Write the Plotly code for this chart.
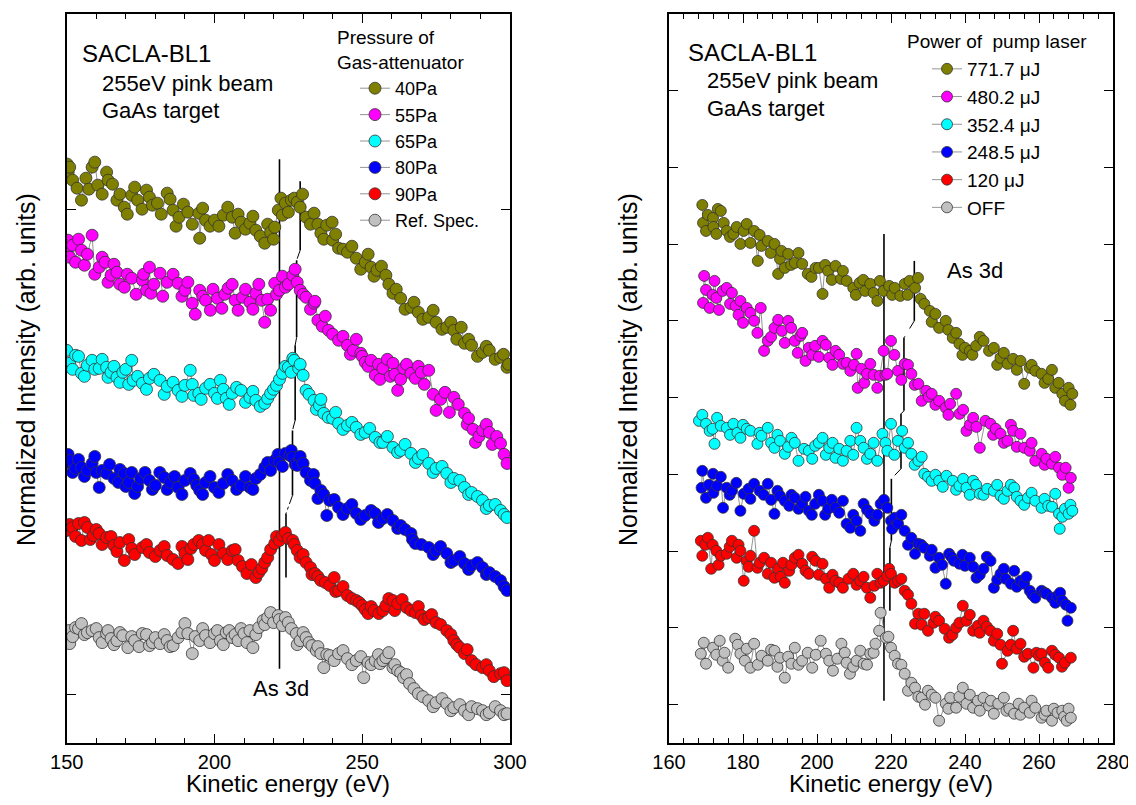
import plotly.graph_objects as go

# ---------------- Left panel data (Kinetic energy eV, intensity arb. units) ----------------
# first reading of each spectrum
L_40_x = [150.5,151,152,155,156.5,158.6,160.5,163.5,164,167,169.5,172,174,177,179,180.7,184,186,188,191,194.7,195,197,200,203,206,207,209,212,214,217,219,220.4,221.6,223,224,226,227,228,229,231,233.7,236,238,239.8,240,242,245,248,251,253,255,258,260.4,263,266.5,269,272.5,275,278.6,281,283.5,284.6,287,290.7,293,296.8,299]
L_40_y = [522,527,514,494,516,527,509,522,514,494,487,499,494,504,489,491,501,484,477,482,481,456,474,474,479,477,461,472,471,464,451,462,467,484,479,491,494,496,492,487,477,481,461,469,472,454,446,442,436,432,427,424,419,401,396,387,382,377,372,367,364,367,351,349,342,344,337,327]
# second reading (points spread across the width of the band)
L_40_x2 = [150.2,153.5,157.5,159.5,162,165.5,168,170.5,173,175.5,178,182,185,187,189.5,192.5,196,198.5,201.5,204.5,208,210.5,213,215.5,218,220,222.5,225,229.8,232.5,235,237,241,243.5,246.5,249.5,252,254,256.5,259,261.5,264.5,267.5,270.5,274,277,280,282,286,289,292,295,297.8,299.5]
L_40_y2 = [530,506,505,532,500,510,500,480,507,485,497,480,495,468,490,470,486,468,468,487,480,465,478,458,470,455,496,482,500,470,470,455,460,445,448,425,440,418,428,410,405,385,392,375,384,365,372,355,355,338,348,335,340,330]

L_55_x = [150.5,151,152,153,155,156,158.6,161,163,165,167,169.5,172,175.6,177,178,178.5,181.6,184,187.7,190,192.5,195,197,198.6,201,204.6,207,209.5,212,214,216,217,219,220.4,222,224,226.5,228,229,231,233.7,235,238.6,242,245,247,249.5,251,253,254.4,257,260.4,262,264,266.5,270,272.5,275,278,281,284.6,286,288.3,290.7,293,296.8,299]
L_55_y = [454,437,449,432,444,429,459,427,432,419,422,407,416,414,404,427,401,421,412,411,404,391,404,394,384,396,406,394,397,392,401,394,372,384,411,404,407,419,412,404,397,391,374,364,354,349,344,341,332,334,319,326,331,304,326,321,322,324,284,302,297,281,276,252,264,262,251,231]
L_55_x2 = [150.2,154,157,159.5,162,164,166,168,170.5,173.5,176,179.5,182.5,186,189,191,193.5,196,199.5,202.5,203.5,206,208,210.5,213,215,218,221,223,225,227.3,230,232.5,234,236.5,237.5,240,243.5,246,248,250,252,255.5,256,258.5,259.5,261,263,265,268,269,271,274,276.5,279.5,282.5,285.5,287.5,289.5,292,294,295.5,298]
L_55_y2 = [445,455,440,420,437,412,430,410,420,400,420,410,398,420,398,412,380,398,405,386,400,410,384,405,385,410,395,400,418,410,425,400,385,393,368,378,360,358,340,355,338,328,330,315,335,318,320,315,330,316,328,310,300,295,282,290,270,265,258,270,250,258,240]

L_65_x = [150,151,153,155,157,158.6,161,163.5,165,167,169,172,172.5,175.6,178,181.6,184,187.7,190,191.8,193,194.7,197,200,202,204,206,209,212,214,217,219,221,223,225,227,228.5,230,231,233.7,235.5,237,240,242,245,248,251,254.4,257,260.4,263,266.5,269,272.5,275,278.6,281,284.6,287,290.7,293,296.8,299]
L_65_y = [344,331,339,321,329,334,326,327,322,317,322,334,314,311,316,314,308,304,309,324,299,301,306,301,314,296,301,304,297,294,291,301,309,321,327,334,326,319,304,294,289,281,276,271,269,267,262,257,252,247,244,241,236,231,226,221,216,207,202,194,189,184,177]
L_65_x2 = [152,154,156,159.5,162,164,166,168,170,171,174,177,179.5,183,186,189,192.5,195.5,198.5,201,203,205,207.5,210.5,213,215.5,218,220,222,224,226,226.5,229,232,234.5,236,238.5,241,243.5,246.5,249.5,252.5,256,258.5,262,264.5,268,270.5,274,277,280,283,286,289,292,295,298]
L_65_y2 = [325,338,318,325,335,317,328,312,325,310,318,305,320,300,312,298,310,295,310,296,305,290,307,292,303,288,296,305,315,328,322,336,330,300,285,295,277,282,265,272,260,266,252,258,242,250,232,240,222,228,212,214,200,198,186,190,180]

L_80_x = [150,151,153,155,157,158.6,161,162,163.5,166,169.5,171,173,175,178,180,183,185,187.7,190,191.8,194,195,197,200,203,206,209,212,214,217,219,220.4,222,224,225.5,226.5,228,230,232.5,234,236,238,239,242,245,248,251,254.4,257,260.4,263,266.5,268,272.5,275,278.6,281,284.6,287,290.7,293,296.8,299]
L_80_y = [232,234,226,227,224,231,207,224,221,216,221,212,201,216,214,209,217,212,207,214,221,209,204,212,207,211,214,209,207,216,227,224,234,232,241,239,237,229,231,214,211,204,179,194,187,186,181,179,181,176,174,169,161,151,147,144,141,134,131,129,127,122,114,104]
L_80_x2 = [150.5,152,154,156,159.5,160,164.5,167.5,168,170,172,174,176.5,179,181.5,184,186.5,189,193,196,198.5,201.5,204.5,207.5,210.5,213,215.5,218,221.5,223,226,227.3,229,231,233.5,235,237,240.5,243.5,246.5,249.5,253,255.5,258.5,262,264.5,267,270,274,276.5,280,283,286,289,292,295,298]
L_80_y2 = [240,222,235,218,238,222,230,212,225,208,222,208,222,205,222,205,218,200,215,200,218,202,220,205,218,205,220,232,240,228,244,230,238,222,220,196,200,195,180,190,175,184,172,180,166,165,155,150,140,148,132,138,125,132,120,118,108]

L_90_x = [150,152,154,155,157,159,161,163.5,166,168,169.5,172,175.6,178,181.6,184,187.7,190,192,194.7,197,198,200,203,206,208,211,214,216,218,220.4,222,223,225,226.5,228,229,231,232.5,234,236,239,240.5,242,245,248,250,252,254,255.6,258,260.4,262,265,268,270,272.5,275,278.6,281,283,284.6,287,290.7,293,296.8,299]
L_90_y = [164,167,171,154,167,159,161,157,149,152,134,146,147,142,144,139,131,141,146,154,144,154,134,141,144,134,121,117,126,137,151,154,159,156,154,144,137,132,127,121,114,109,117,104,99,94,89,81,84,81,89,94,91,87,82,79,77,72,64,54,47,41,34,27,24,21,14]
L_90_x2 = [151,153,156,158,160,162,165,167,171,173,177,180,183,186,189,191,193,196,199,201.5,204.5,207,209.5,212.5,215,217,219,221,224,227,230,233,235,237.5,241,243.5,246.5,249,251,253,257,259,261,263.5,266.5,269,271,273.5,276.5,280,282,285.5,288.5,292,294.5,298]
L_90_y2 = [170,158,172,155,165,150,158,143,155,140,150,138,148,135,148,135,150,150,140,150,135,145,128,130,122,132,145,158,162,150,140,120,118,112,103,108,96,92,85,88,84,96,84,95,84,88,75,80,70,60,50,45,30,30,18,22]

L_ref_x = [150.7,151,153,155,157,158.6,161,163.5,165,167,169,170.7,173,175.6,178,180,181.6,184,186,187.7,190,191,192.5,195,197,200,202,204,206,208,210,212,213,215,216.5,218,220,221.6,223,224,226,227.7,229,231,233,234.5,236,237,239,242,245,248,250.5,252,254.4,256,258,260.4,262,264,266,269,272.5,275,278.6,281,284.6,287,290.7,293,296.8,299]
L_ref_y = [64,51,67,71,62,64,57,61,56,54,59,47,54,61,49,57,51,54,49,57,71,61,41,54,59,61,54,62,57,54,61,64,47,67,74,77,72,79,69,77,66,61,54,57,49,44,41,27,39,41,36,34,17,32,34,31,37,27,24,17,11,1,-6,-8,-9,-13,-16,-12,-16,-18,-16,-19]
L_ref_x2 = [152,154,156,160,162,164,166,168,172,174.5,177,179,183,185,189,193.5,196,198.5,201,203,205,207,209,211,214,217,219,222,225,228,230,232,235,238,240.5,243.5,246.5,249.5,253,255.5,257,259,261,263,265,267.5,270.5,274,277,280,283,286,289,292,295,298]
L_ref_y2 = [58,66,60,66,52,64,50,62,58,48,60,52,60,48,62,58,66,52,64,50,64,60,66,52,60,70,82,75,72,50,62,52,48,40,34,44,30,38,30,40,34,42,30,22,20,6,-2,-12,-4,-16,-10,-20,-14,-20,-12,-20]

left_names = ["40Pa", "55Pa", "65Pa", "80Pa", "90Pa", "Ref. Spec."]

# peak markers (left): long line at As 3d of reference, short segments at each spectrum's peak
L_ref_peak_x = [222.0, 222.0]
L_ref_peak_y = [535, 26]
L_seg_x = [229.0, 227.8, 227.3, 226.4, 224.2]
L_seg_top = [513, 434, 349, 264, 181]
L_seg_bot = [444, 357, 274, 199, 117]

# ---------------- Right panel data ----------------
R_771_x = [169,169.2,170,171.9,172.8,173.2,174,175.6,177.4,179.3,180.2,181,183,184,185,186.7,188.5,189.5,190.4,191.3,192.2,194,196,197.5,199.6,200.5,201.5,203,205,206.5,208,209.8,211.5,213,214.4,216.3,218,219.5,221,222.5,223.7,225,226.5,228,229,230.5,232,233,234.8,236.7,238.5,240,241.3,243,245,246.5,247.8,249.6,251.5,253,255,256,257.5,259,260.7,262.5,264.4,266.3,267,268,269]
R_771_y = [500,482,474,487,471,496,494,474,471,461,474,481,474,444,459,464,461,431,454,437,451,442,441,431,437,437,411,434,439,426,424,417,422,414,421,404,414,419,417,409,421,424,417,406,401,394,391,377,384,367,361,357,354,359,364,354,357,347,341,346,344,321,337,334,331,326,317,311,304,317,311]
R_771_x2 = [170.5,172,174.8,176.5,178.3,182,184.5,187.5,190,193,195,198.5,202.2,204,207,210.5,212.5,215.3,217,220.3,224.5,227.3,231,235.5,237.6,239.3,242,244,248.7,250.5,254,258,261.5,263.5,265.3,268.5]
R_771_y2 = [490,478,482,468,478,462,470,452,446,440,452,428,440,425,434,410,425,412,424,410,410,427,383,375,372,350,350,368,340,352,335,340,322,335,322,300]

R_480_x = [169.2,169.5,171,172.3,172.8,174.5,175.6,176.5,178,179.3,180,181,183,184.8,185.7,186.7,188.5,190.5,192.2,193,194,195.5,196.9,197.8,199.5,201.5,203.3,205,207,209,210.7,211,212,213.5,214.4,216.3,217,218,219,220,221.9,223.7,225.5,227.4,228.3,229.5,231,233,234.8,236,237.6,238.5,240.4,242.2,244,245.5,246.9,248.3,249.6,251.5,253,255,256,257.5,259,260.7,262,263.5,265.4,267.2,268,268.6]
R_480_y = [402,429,397,424,407,414,417,401,399,404,382,397,384,397,354,364,377,374,384,377,364,369,344,357,359,364,347,354,341,334,351,317,336,331,341,317,329,354,331,364,334,341,331,321,304,314,311,304,297,301,311,291,274,287,257,284,281,276,271,264,274,271,257,254,244,251,246,241,237,237,217,227]
R_480_x2 = [170,171.8,173.5,177,178.8,182,183.9,187.6,189.5,191.3,194.8,196,198.7,200.5,202.4,204.2,206,208,210,212.8,215.3,218.5,220.9,222.8,224.6,226.4,230.2,232,235.5,239.5,241.3,243.1,247.6,250.5,252.4,254,258,261.5,264.4,266.3]
R_480_y2 = [415,410,395,412,390,392,372,368,385,362,352,372,350,348,360,340,350,342,340,322,330,330,350,325,340,320,308,300,290,295,280,278,270,262,280,258,262,240,248,230]

R_352_x = [168.1,170,171,172.3,173,174,175.6,177.4,178.5,179.3,181,182,183.9,185,186.7,188.5,190,191.3,193.1,195,196.5,197.8,199.5,201.5,203.3,205,207,208,209,210.7,212.6,214.4,216.3,217.7,219,220,221.9,223,223.7,225.5,227.4,229,231,233,235,236.7,238.5,240.4,242.2,244,246,247.8,249.6,251.5,253.3,255,257,259,260.7,262.5,264.4,265.4,265.6,267,268,269]
R_352_y = [284,281,274,261,287,279,277,281,272,267,276,274,261,269,277,257,264,251,267,244,256,254,259,267,257,247,244,254,264,277,257,251,244,271,254,281,264,274,257,251,244,231,224,224,229,224,219,217,224,211,216,214,209,214,217,204,207,204,197,199,211,191,176,196,191,194]
R_352_x2 = [169,171.8,176.5,180,184.5,187.6,189.3,192.2,194,198.7,200.5,202.4,204.2,206,209.8,211.7,213.5,215.3,218.5,220.9,224.6,226.4,228.3,230,232,234,237.6,239.5,241.3,243,245,248.7,250.5,252.4,254,256,258,261.5,263.5,266.3,268.5]
R_352_y2 = [290,276,270,280,272,262,270,258,262,246,262,250,262,256,250,264,246,262,262,250,262,240,248,228,230,218,215,226,210,220,210,220,206,220,208,200,212,206,198,188,200]

R_248_x = [168.8,169,170,171.9,173,174.6,175.6,177,179.3,180.2,181.5,183,184.5,186.7,188.5,190,191.3,192.5,194,196,197.8,199.5,201.5,203,205,207,208,209,210.7,211.7,212.6,214.4,215.5,217.2,219,220,221,221.9,223.7,225.5,226.5,227.4,229,230.5,232,233,234.8,235.7,237,238.5,240,241.3,243.1,245,246.9,247.8,249.6,251,252.4,253.3,255,256,257.5,259,260.7,262,263.5,265,266.3,267.7,268.6]
R_248_y = [217,234,207,231,219,197,217,214,194,211,216,221,214,221,191,209,204,199,207,201,194,201,204,196,197,204,181,177,184,174,201,191,184,201,197,184,187,181,174,167,151,161,157,149,137,147,121,151,144,141,139,147,127,136,144,117,131,126,121,134,124,121,114,107,114,111,107,109,104,84,97]
R_248_x2 = [170.8,172,174,176.4,178.2,182,185.6,187.6,189.3,193.1,195,196.9,198.6,200.5,202.2,204,206,209.8,213.5,216.3,218.1,220.3,222.8,224.6,228.2,231,233.8,236.3,239.3,242.2,244,245.9,248.7,250.5,254,256.6,258.2,261.5,264.4,265.7,267.3]
R_248_y2 = [220,212,228,210,222,206,210,205,214,210,196,208,190,210,190,205,192,190,195,190,205,176,190,160,160,155,140,148,150,138,130,148,125,136,118,128,110,112,102,112,100]

R_120_x = [168.6,169,170.5,171.4,172.8,174,175.6,177,178.3,179.3,180.2,181,182,183,183.9,185.7,186.7,188.5,189.5,190.8,191.3,192.5,194,196,197.8,199.6,201.5,203.3,205,207,208.5,209.8,211.7,213.5,214.4,215.5,216.3,218,219,220,221.9,223.7,225.5,226.5,227.4,229,230,231.5,233,234.5,235.7,237.6,239.4,240.4,242.2,243.5,245,246.9,248.7,250,251.5,253,254,255,257,258.5,260,260.7,262.5,263.5,265.4,267,268.6]
R_120_y = [164,149,167,136,154,149,151,164,147,154,124,144,149,174,137,147,131,127,136,142,122,134,147,141,131,144,141,117,124,117,126,131,124,117,107,119,131,124,129,131,124,114,101,81,91,91,74,82,84,76,67,77,99,84,74,79,84,74,71,41,54,74,56,61,51,37,49,51,37,54,47,42,47]
R_120_x2 = [169.8,171.8,173.4,176.4,178.8,181.5,184.5,187.6,190.2,193.1,195,196.9,198.7,200.5,202.4,204.2,206,210.7,212.6,217.2,219.5,221,222.8,224.6,228.3,232,236.6,238.5,241.3,244,245.9,247.8,249.6,252.4,256,259.3,261.6,264.4,266.2]
R_120_y2 = [160,160,140,158,160,138,142,142,128,140,150,134,148,130,126,130,122,120,128,122,136,122,126,110,80,88,70,82,90,72,78,64,60,60,48,52,42,50,38]

R_off_x = [168.6,170,171.9,173.7,175,176,177.9,179.3,180.5,182,183,185,186.7,188.5,190,191.3,193.1,194,196,197.5,198.7,201,202.4,204.3,205.5,206.6,208,208.9,210.7,212.6,214.4,215.8,216.8,217.2,218.6,220,221,221.9,223.7,224.6,226.5,228.3,230,232,233,234.8,236,237.6,239.4,240.4,242.2,243.5,245,246.5,247.8,249,250.5,252,253.3,254.5,256,257.5,259,260.7,262,263.5,265,266.3,267.5,268.6]
R_off_y = [51,41,57,64,52,37,66,51,44,37,61,49,44,54,47,27,41,57,44,52,37,64,51,34,46,61,42,31,44,41,51,61,74,92,67,57,49,41,31,14,17,7,14,7,-16,1,7,-3,17,1,-3,4,7,-1,-9,1,7,-4,-9,1,-3,-8,-3,-13,-6,-16,-8,-6,-16,-13]
R_off_x2 = [169.4,172.8,174.5,178.6,181,184,187.6,189.3,192.2,195,199.7,203.3,207.5,209.8,211.7,213.5,215.3,219.3,222.8,225.5,227.4,229.2,231,235.5,238.5,241.3,244,247,251.2,255,258,261.5,264,266.8,268]
R_off_y2 = [62,50,44,60,56,40,55,38,48,40,50,44,52,38,54,40,52,68,40,22,8,0,10,-4,8,10,-6,4,-6,-10,4,-10,-4,-12,-4]

right_names = ["771.7 \u03bcJ", "480.2 \u03bcJ", "352.4 \u03bcJ", "248.5 \u03bcJ", "120 \u03bcJ", "OFF"]

R_ref_peak_x = [218.1, 218.1]
R_ref_peak_y = [471, 4]
R_seg_x = [226.3, 223.5, 222.7, 220.1, 219.7]
R_seg_top = [444, 367, 291, 226, 157]
R_seg_bot = [384, 294, 236, 164, 94]

colors = ["#808000", "#FF00FF", "#00FFFF", "#0000FF", "#FF0000", "#C0C0C0"]

FONT = "Liberation Sans, Arial, sans-serif"
# the page body adds an 8px margin, so the figure is drawn 8px in from the top-left corner
OFF = 8
W, H = 1128, 789

def px(x):
    return (x - OFF) / W

def py(y):
    return 1 - (y - OFF) / H

def merged(xa, ya, xb, yb):
    pts = sorted(zip(list(xa) + list(xb), list(ya) + list(yb)))
    return [p[0] for p in pts], [p[1] for p in pts]

fig = go.Figure()

left_sets = [merged(L_40_x, L_40_y, L_40_x2, L_40_y2), merged(L_55_x, L_55_y, L_55_x2, L_55_y2),
             merged(L_65_x, L_65_y, L_65_x2, L_65_y2), merged(L_80_x, L_80_y, L_80_x2, L_80_y2),
             merged(L_90_x, L_90_y, L_90_x2, L_90_y2), merged(L_ref_x, L_ref_y, L_ref_x2, L_ref_y2)]
right_sets = [merged(R_771_x, R_771_y, R_771_x2, R_771_y2), merged(R_480_x, R_480_y, R_480_x2, R_480_y2),
              merged(R_352_x, R_352_y, R_352_x2, R_352_y2), merged(R_248_x, R_248_y, R_248_x2, R_248_y2),
              merged(R_120_x, R_120_y, R_120_x2, R_120_y2), merged(R_off_x, R_off_y, R_off_x2, R_off_y2)]

def add_peak_lines(xa, ya, ref_x, ref_y, seg_x, seg_top, seg_bot, dash):
    fig.add_trace(go.Scatter(x=ref_x, y=ref_y, mode="lines", xaxis=xa, yaxis=ya,
                             line=dict(color="black", width=1.6), showlegend=False, hoverinfo="skip"))
    for i in range(len(seg_x)):
        fig.add_trace(go.Scatter(x=[seg_x[i], seg_x[i]], y=[seg_top[i], seg_bot[i]], mode="lines",
                                 xaxis=xa, yaxis=ya, line=dict(color="black", width=1.6),
                                 showlegend=False, hoverinfo="skip"))
        if i + 1 < len(seg_x):
            fig.add_trace(go.Scatter(x=[seg_x[i], seg_x[i + 1]], y=[seg_bot[i], seg_top[i + 1]],
                                     mode="lines", xaxis=xa, yaxis=ya,
                                     line=dict(color="black", width=1, dash=dash),
                                     showlegend=False, hoverinfo="skip"))

add_peak_lines("x", "y", L_ref_peak_x, L_ref_peak_y, L_seg_x, L_seg_top, L_seg_bot, "dashdot")
add_peak_lines("x2", "y2", R_ref_peak_x, R_ref_peak_y, R_seg_x, R_seg_top, R_seg_bot, "dash")

for (xs, ys), name, c in zip(left_sets, left_names, colors):
    fig.add_trace(go.Scatter(x=xs, y=ys, name=name, mode="lines+markers", xaxis="x", yaxis="y",
                             line=dict(color="#666666", width=0.7),
                             marker=dict(size=12, color=c, line=dict(color="#333333", width=0.8)),
                             legend="legend"))

for (xs, ys), name, c in zip(right_sets, right_names, colors):
    fig.add_trace(go.Scatter(x=xs, y=ys, name=name, mode="lines+markers", xaxis="x2", yaxis="y2",
                             line=dict(color="#666666", width=0.7),
                             marker=dict(size=11, color=c, line=dict(color="#333333", width=0.8)),
                             legend="legend2"))

axis_common = dict(showline=True, linecolor="black", linewidth=1.6, mirror="ticks",
                   ticks="inside", ticklen=9, tickwidth=1.4, tickcolor="black",
                   showgrid=False, zeroline=False, automargin=False,
                   tickfont=dict(family=FONT, size=20, color="black"))

y0, y1 = py(742.7), py(14)
fig.update_layout(
    template="none",
    width=W, height=H, margin=dict(l=0, r=0, t=0, b=0, pad=0), autosize=False,
    paper_bgcolor="white", plot_bgcolor="white",
    font=dict(family=FONT, color="black"),
    xaxis=dict(domain=[px(66.7), px(510)], range=[150, 300], tick0=150, dtick=50,
               minor=dict(ticks="inside", ticklen=5, tickwidth=1.2, dtick=10, tickcolor="black", showgrid=False),
               ticklabelstandoff=0, ticklabeloverflow="allow", anchor="y", **axis_common),
    yaxis=dict(domain=[y0, y1], range=[-48, 680], tickvals=[0, 485], showticklabels=False,
               anchor="x", **axis_common),
    xaxis2=dict(domain=[px(669), px(1113)], range=[160, 280], tick0=160, dtick=20,
                minor=dict(ticks="inside", ticklen=5, tickwidth=1.2, dtick=4, tickcolor="black", showgrid=False),
                ticklabelstandoff=0, ticklabeloverflow="allow", anchor="y2", **axis_common),
    yaxis2=dict(domain=[y0, y1], range=[-38, 691], tick0=0, dtick=76.8, showticklabels=False,
                anchor="x2", **axis_common),
    legend=dict(x=px(355), y=py(70), xanchor="left", yanchor="top",
                bgcolor="rgba(0,0,0,0)", borderwidth=0, itemsizing="trace",
                font=dict(family=FONT, size=18, color="black"), tracegroupgap=0),
    legend2=dict(x=px(927), y=py(50), xanchor="left", yanchor="top",
                 bgcolor="rgba(0,0,0,0)", borderwidth=0, itemsizing="trace",
                 font=dict(family=FONT, size=19, color="black"), tracegroupgap=0),
)

def ann(text, x, y, size, xanchor="left", angle=0):
    fig.add_annotation(text=text, x=px(x), y=py(y), xref="paper", yref="paper",
                       xanchor=xanchor, yanchor="middle", showarrow=False, textangle=angle,
                       font=dict(family=FONT, size=size, color="black"))

# left panel labels
ann("SACLA-BL1", 80, 53, 24)
ann("255eV pink beam", 100, 83, 22)
ann("GaAs target", 100, 110, 22)
ann("Pressure of", 335, 37, 19)
ann("Gas-attenuator", 335, 63, 19)
ann("As 3d", 281, 688, 22, xanchor="center")
ann("Kinetic energy (eV)", 288, 783, 24, xanchor="center")
ann("Normalized Intensity (arb. units)", 26, 370, 25, xanchor="center", angle=-90)

# right panel labels
ann("SACLA-BL1", 686, 52, 24)
ann("255eV pink beam", 705, 81, 22)
ann("GaAs target", 705, 108, 22)
ann("Power of\u00a0 pump laser", 905, 42, 19)
ann("As 3d", 975, 270, 22, xanchor="center")
ann("Kinetic energy (eV)", 891, 783, 24, xanchor="center")
ann("Normalized Intensity (arb. units)", 628, 370, 25, xanchor="center", angle=-90)

fig.write_html("out.html")
